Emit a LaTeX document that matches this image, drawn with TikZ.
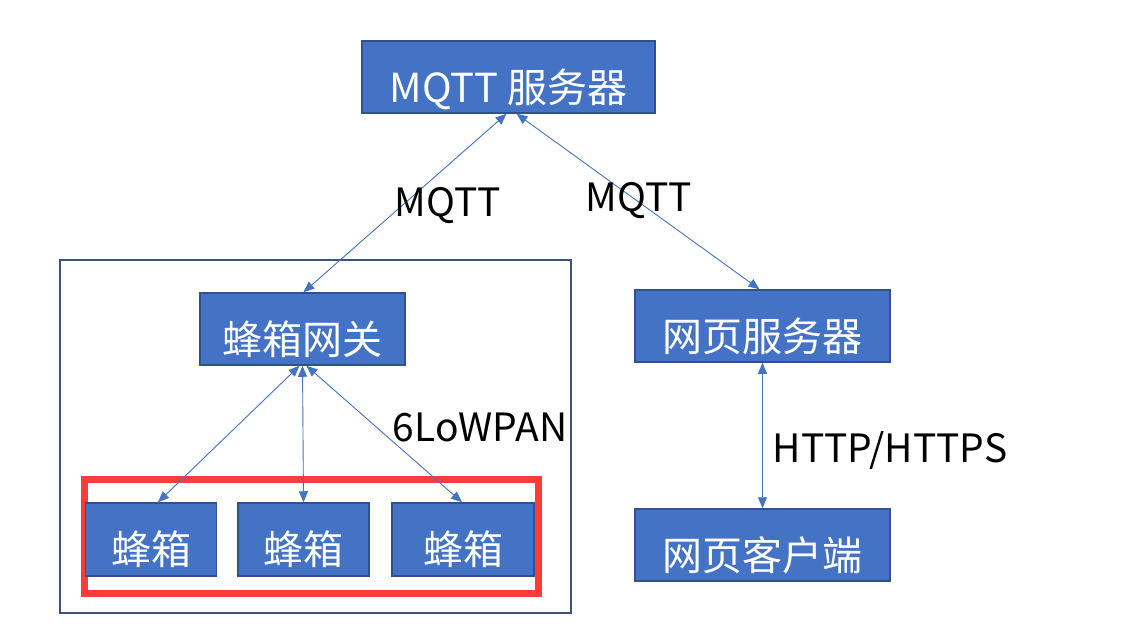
\documentclass[tikz,border=0pt]{standalone}
\usepackage{fontspec}
\setmainfont{Noto Sans CJK SC}
\usetikzlibrary{arrows.meta}
\definecolor{boxfill}{HTML}{4472C4}
\definecolor{boxline}{HTML}{2F528F}
\definecolor{frameline}{HTML}{3A5478}
\definecolor{redline}{HTML}{FF3B3B}
\tikzset{
  box/.style={draw=boxline, line width=1.5pt, fill=boxfill, text=white, inner sep=0pt,
    text height=50pt, text depth=0pt,
    font=\fontsize{40}{46}\selectfont},
  lbl/.style={text=black, inner sep=0pt, font=\fontsize{39}{45}\selectfont},
  link/.style={draw=boxfill, line width=0.9pt,
    {Triangle[length=11pt,width=9pt]}-{Triangle[length=11pt,width=9pt]}}
}
\begin{document}
\begin{tikzpicture}[x=1pt,y=-1pt]
\useasboundingbox (0,0) rectangle (1121,638);
\fill[white] (0,0) rectangle (1121,638);
% outer frame
\draw[frameline, line width=1.5pt] (60,260) rectangle (571,613);
% red group
\draw[redline, line width=7pt] (84,479.5) rectangle (538.5,593.5);
% boxes
\node[box, minimum width=293pt, minimum height=72pt] (mqtt) at (508.5,77) {MQTT 服务器};
\node[box, minimum width=205pt, minimum height=72pt] (gw) at (302.5,329) {蜂箱网关};
\node[box, minimum width=255pt, minimum height=72pt] (ws) at (762.5,326) {网页服务器};
\node[box, minimum width=255pt, minimum height=72pt] (wc) at (762.5,545) {网页客户端};
\node[box, minimum width=131pt, minimum height=73pt] (b1) at (151,539.5) {蜂箱};
\node[box, minimum width=131pt, minimum height=73pt] (b2) at (303.5,539.5) {蜂箱};
\node[box, minimum width=142pt, minimum height=73pt] (b3) at (463,539.5) {蜂箱};
% anchor points
\coordinate (m1) at ([xshift=-2pt]mqtt.south);
\coordinate (m2) at ([xshift=8pt]mqtt.south);
\coordinate (g0) at ([xshift=1pt]gw.north);
\coordinate (w0) at ([xshift=-3pt]ws.north);
\coordinate (gl) at ([xshift=-3pt]gw.south);
\coordinate (gm) at ([xshift=0pt]gw.south);
\coordinate (gr) at ([xshift=4pt]gw.south);
\coordinate (t1) at ([xshift=7pt]b1.north);
\coordinate (t2) at ([xshift=0pt]b2.north);
\coordinate (t3) at ([xshift=-1pt]b3.north);
% connectors
\draw[link] (m1) -- (g0);
\draw[link] (m2) -- (w0);
\draw[link] (gl) -- (t1);
\draw[link] (gm) -- (t2);
\draw[link] (gr) -- (t3);
\draw[link] (ws.south) -- (wc.north);
% labels
\node[lbl] (l1) at (448,206) {MQTT};
\node[lbl] (l2) at (639,201) {MQTT};
\node[lbl] (l3) at (480,427) {6LoWPAN};
\node[lbl] (l4) at (890,450) {HTTP/HTTPS};
\end{tikzpicture}
\end{document}
